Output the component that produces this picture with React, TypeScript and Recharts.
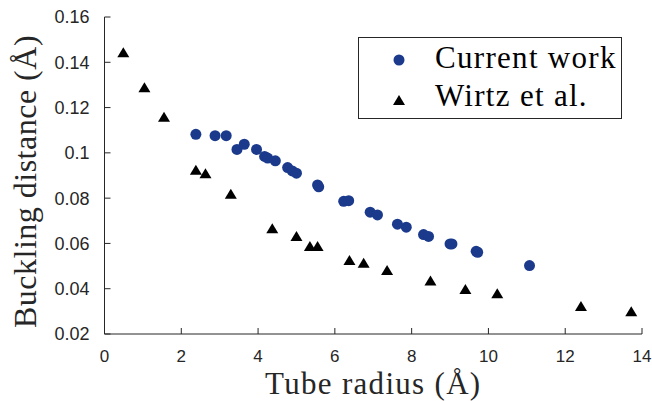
import { CartesianGrid, Legend, Scatter, ScatterChart, XAxis, YAxis } from "recharts";

// Tube radius (Å) / buckling distance (Å)
const currentX = [2.38, 2.88, 3.17, 3.45, 3.64, 3.96, 4.17, 4.25, 4.45, 4.77, 4.89, 5.0, 5.55, 5.58, 6.23, 6.36, 6.92, 7.11, 7.63, 7.86, 8.31, 8.44, 9.0, 9.05, 9.68, 9.72, 11.07];
const currentY = [0.1082, 0.1076, 0.1076, 0.1015, 0.1038, 0.1015, 0.0984, 0.0977, 0.0965, 0.0935, 0.092, 0.091, 0.0858, 0.085, 0.0786, 0.0789, 0.0738, 0.0726, 0.0685, 0.0672, 0.0639, 0.0631, 0.0598, 0.0598, 0.0565, 0.0561, 0.0502];

const wirtzX = [0.49, 1.04, 1.55, 2.38, 2.63, 3.29, 4.37, 5.0, 5.35, 5.55, 6.38, 6.75, 7.36, 8.49, 9.4, 10.23, 12.41, 13.72];
const wirtzY = [0.1444, 0.129, 0.116, 0.0925, 0.091, 0.0819, 0.0667, 0.0633, 0.0589, 0.0589, 0.0527, 0.0515, 0.0483, 0.0436, 0.0399, 0.038, 0.0324, 0.03];

const xTicks = [0, 2, 4, 6, 8, 10, 12, 14];
const yTicks = [0.02, 0.04, 0.06, 0.08, 0.1, 0.12, 0.14, 0.16];

const BLUE = "#1b3a8c";
const AXIS = "#262626";
const serif = "'Liberation Serif', 'Times New Roman', serif";
const sans = "'Liberation Sans', Arial, sans-serif";

const currentData = currentX.map((x, i) => ({ x, y: currentY[i] }));
const wirtzData = wirtzX.map((x, i) => ({ x, y: wirtzY[i] }));

const Dot = (p: any) => <circle cx={p.cx} cy={p.cy} r={5.5} fill={BLUE} />;

const Tri = (p: any) => (
  <path d={`M${p.cx},${p.cy - 5} L${p.cx + 6},${p.cy + 5} L${p.cx - 6},${p.cy + 5} Z`} fill="#000" />
);

function LegendBox() {
  return (
    <svg width={264} height={82} style={{ display: "block" }}>
      <rect x={0.5} y={0.5} width={263} height={81} fill="#fff" stroke={AXIS} strokeWidth={1} />
      <Dot cx={41} cy={23} />
      <text x={77} y={31} fontFamily={serif} fontSize={31} letterSpacing={1.3} fill="#000">Current work</text>
      <Tri cx={41} cy={63} />
      <text x={77} y={69} fontFamily={serif} fontSize={31} letterSpacing={1.3} fill="#000">Wirtz et al.</text>
    </svg>
  );
}

export default function App() {
  return (
    <div style={{ position: "absolute", left: 0, top: 0, background: "#fff" }}>
      <ScatterChart width={652} height={401} margin={{ top: 17, right: 10, bottom: 0, left: 0 }}>
        <CartesianGrid stroke="none" />
        <XAxis
          type="number"
          dataKey="x"
          domain={[0, 14]}
          ticks={xTicks}
          height={67}
          stroke={AXIS}
          tickSize={-6}
          tickMargin={22}
          tick={{ fontSize: 17, fill: AXIS, fontFamily: sans }}
          label={{
            content: (props: any) => {
              const vb = props.viewBox;
              return (
                <text x={vb.x + vb.width / 2} y={vb.y + 60} textAnchor="middle" fontFamily={serif} fontSize={31} letterSpacing={1.3} fill={AXIS}>
                  Tube radius (Å)
                </text>
              );
            },
          }}
        />
        <YAxis
          type="number"
          dataKey="y"
          domain={[0.02, 0.16]}
          ticks={yTicks}
          width={104.5}
          stroke={AXIS}
          tickSize={-6}
          tickMargin={21}
          tickFormatter={(v: number) => String(v)}
          tick={{ fontSize: 18, fill: AXIS, fontFamily: sans }}
          label={{
            content: (props: any) => {
              const vb = props.viewBox;
              const cy = vb.y + vb.height / 2 + 6;
              return (
                <text x={36} y={cy} transform={`rotate(-90, 36, ${cy})`} textAnchor="middle" fontFamily={serif} fontSize={32} letterSpacing={0.5} fill={AXIS}>
                  Buckling distance (Å)
                </text>
              );
            },
          }}
        />
        <Legend
          layout="horizontal"
          verticalAlign="middle"
          align="center"
          wrapperStyle={{ left: 358, top: 37, width: 264, height: 82 }}
          content={() => <LegendBox />}
        />
        <Scatter name="Current work" data={currentData} shape={Dot} isAnimationActive={false} />
        <Scatter name="Wirtz et al." data={wirtzData} shape={Tri} isAnimationActive={false} />
      </ScatterChart>
    </div>
  );
}
